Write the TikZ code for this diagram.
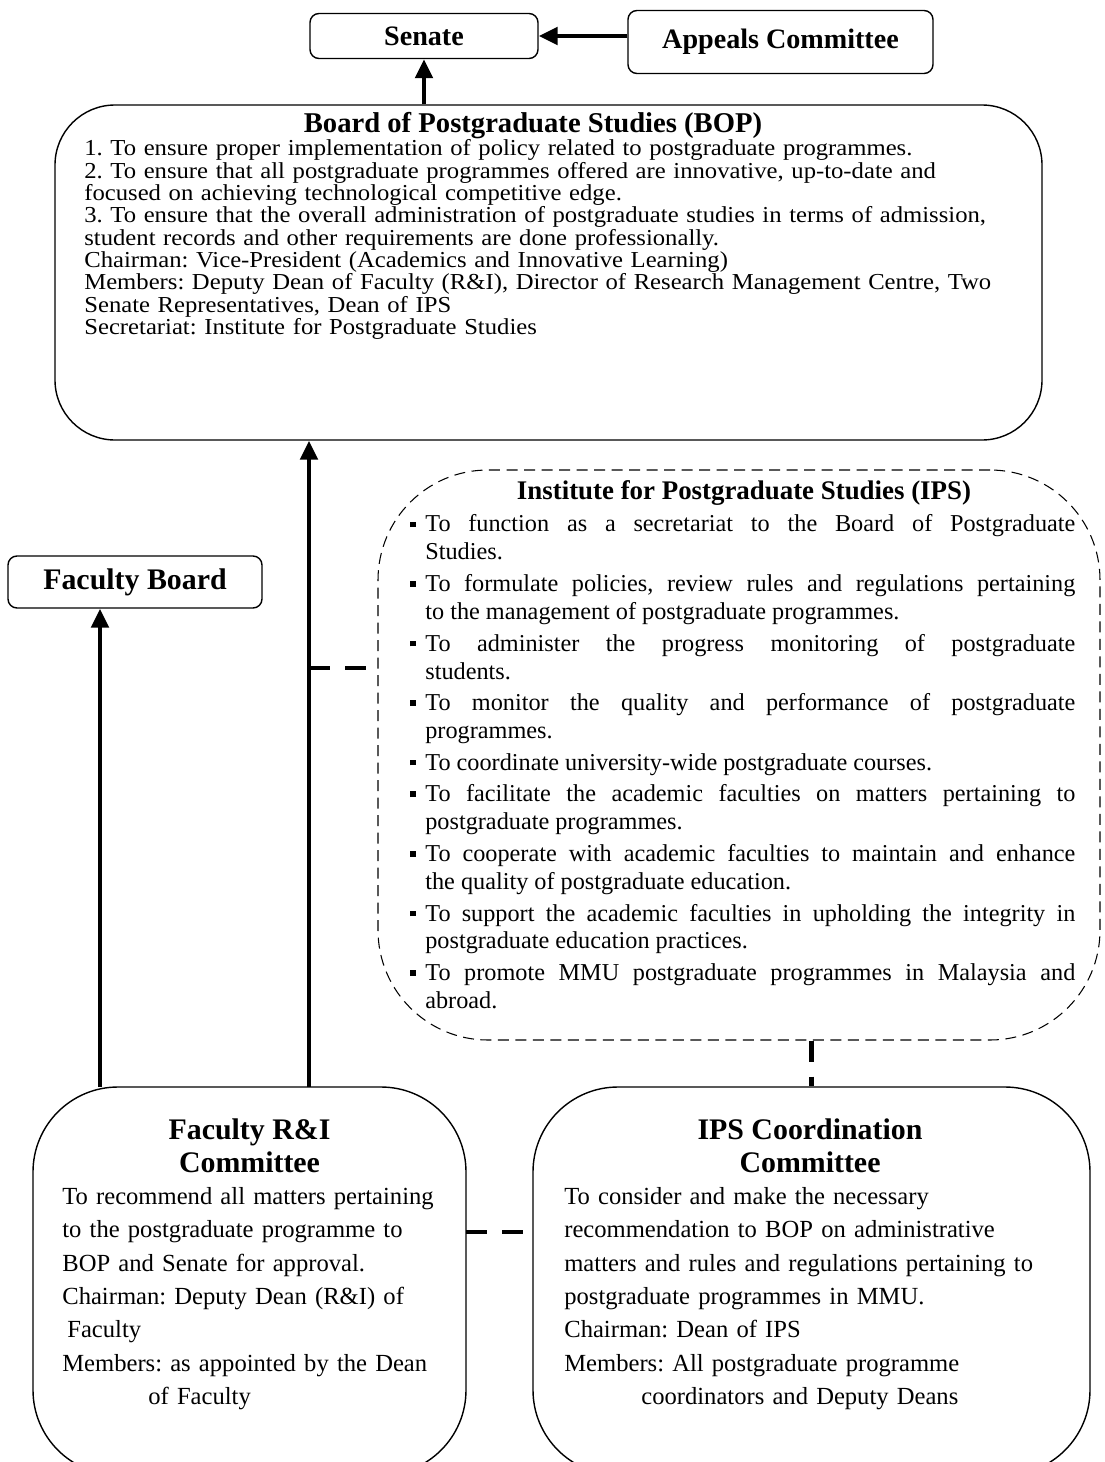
\documentclass[tikz,border=0pt]{standalone}
\usepackage{fontspec}
\setmainfont{Liberation Serif}
\newfontfamily\widefont[FakeStretch=1.08]{Liberation Serif}
\usetikzlibrary{arrows.meta,positioning}
\frenchspacing

\newcommand{\ipsitem}[1]{\par\hangindent=0.3cm\hangafter=1\noindent\makebox[0.3cm][l]{\rule[0.2em]{3.2pt}{3.2pt}}#1}
\newcommand{\tightlines}{\setlength{\lineskiplimit}{-20pt}\setlength{\lineskip}{0pt}}

\begin{document}
\begin{tikzpicture}[
		>={Triangle[width=0.34cm,length=0.38cm]},
		smallbox/.style={draw, line width=0.8pt, rounded corners=0.18cm, font=\bfseries\fontsize{16}{18}\selectfont},
		bigbox/.style={draw, line width=0.8pt, rounded corners=1.2cm},
		bottombox/.style={draw, line width=0.8pt, rounded corners=1.7cm},
		ipsbox/.style={draw, line width=0.6pt, dash pattern=on 0.22cm off 0.13cm, rounded corners=2.2cm},
		flow/.style={->, line width=2.8pt},
		dashlink/.style={line width=2.8pt, dash pattern=on 0.42cm off 0.3cm},
		heading/.style={font=\bfseries\fontsize{16}{18}\selectfont, inner sep=0pt},
		bigheading/.style={font=\bfseries\fontsize{17}{18.8}\selectfont, align=center, inner sep=0pt},
		boptext/.style={font=\widefont\fontsize{13}{12.7}\selectfont, align=left, inner sep=0pt, anchor=north west},
		ipstext/.style={font=\fontsize{13.8}{15.9}\selectfont, align=justify, inner sep=0pt, anchor=north west},
		comtext/.style={font=\fontsize{14}{19}\selectfont, align=left, inner sep=0pt, anchor=north west}
	]
		\useasboundingbox (0, 0) rectangle (22.08, -29.24);
		\clip (0, 0) rectangle (22.08, -29.24);
		% top row
		\node[smallbox, minimum width=4.56cm, minimum height=0.9cm] (senate) at (8.48, -0.72) {Senate};
		\node[smallbox, minimum width=6.1cm, minimum height=1.26cm] (appeals) at (15.61, -0.84) {Appeals Committee};
		% board of postgraduate studies
		\node[bigbox, minimum width=19.74cm, minimum height=6.7cm] (bop) at (10.97, -5.45) {};
		\node[heading, font=\bfseries\fontsize{16.3}{18}\selectfont] (bophead) at (10.66, -2.52) {Board of Postgraduate Studies (BOP)};
		\node[boptext, text width=19.2cm] (bopbody) at (1.68, -2.79) {\tightlines 1. To ensure proper implementation of policy related to postgraduate programmes.\\
			2. To ensure that all postgraduate programmes offered are innovative, up-to-date and\\
			focused on achieving technological competitive edge.\\
			3. To ensure that the overall administration of postgraduate studies in terms of admission,\\
			student records and other requirements are done professionally.\\
			Chairman: Vice-President (Academics and Innovative Learning)\\
			Members: Deputy Dean of Faculty (R\&I), Director of Research Management Centre, Two\\
			Senate Representatives, Dean of IPS\\
			Secretariat: Institute for Postgraduate Studies};
		% institute for postgraduate studies
		\node[ipsbox, minimum width=14.44cm, minimum height=11.4cm] (ips) at (14.78, -15.1) {};
		\node[heading, font=\bfseries\fontsize{15.3}{18}\selectfont] (ipshead) at (14.88, -9.86) {Institute for Postgraduate Studies (IPS)};
		\node[ipstext, text width=13.3cm] (ipsbody) at (8.2, -10.0) {\setlength{\parskip}{2.1pt}%
			\ipsitem{To function as a secretariat to the Board of Postgraduate\linebreak Studies.}
			\ipsitem{To formulate policies, review rules and regulations pertaining\linebreak to the management of postgraduate programmes.}
			\ipsitem{To administer the progress monitoring of postgraduate\linebreak students.}
			\ipsitem{To monitor the quality and performance of postgraduate\linebreak programmes.}
			\ipsitem{To coordinate university-wide postgraduate courses.}
			\ipsitem{To facilitate the academic faculties on matters pertaining to\linebreak postgraduate programmes.}
			\ipsitem{To cooperate with academic faculties to maintain and enhance\linebreak the quality of postgraduate education.}
			\ipsitem{To support the academic faculties in upholding the integrity in\linebreak postgraduate education practices.}
			\ipsitem{To promote MMU postgraduate programmes in Malaysia and\linebreak abroad.}\par};
		% faculty side
		\node[smallbox, font=\bfseries\fontsize{17}{19}\selectfont, minimum width=5.08cm, minimum height=1.04cm] (fboard) at (2.7, -11.64) {Faculty Board};
		\node[bottombox, minimum width=8.66cm, minimum height=7.76cm] (rni) at (4.99, -25.62) {};
		\node[bigheading] (rnihead) at (4.99, -22.92) {Faculty R\&I\\Committee};
		\node[comtext, text width=8.4cm] (rnibody) at (1.24, -23.74) {To recommend all matters pertaining\\
			to the postgraduate programme to\\
			BOP and Senate for approval.\\
			Chairman: Deputy Dean (R\&I) of\\
			\hspace*{0.1cm}Faculty\\
			Members: as appointed by the Dean\\
			\hspace*{1.72cm}of Faculty};
		% ips coordination
		\node[bottombox, minimum width=11.14cm, minimum height=7.76cm] (ipsc) at (16.23, -25.62) {};
		\node[bigheading] (ipschead) at (16.2, -22.92) {IPS Coordination\\Committee};
		\node[comtext, text width=10.4cm] (ipscbody) at (11.28, -23.74) {To consider and make the necessary\\
			recommendation to BOP on administrative\\
			matters and rules and regulations pertaining to\\
			postgraduate programmes in MMU.\\
			Chairman: Dean of IPS\\
			Members: All postgraduate programme\\
			\hspace*{1.54cm}coordinators and Deputy Deans};
		% connectors
		\coordinate (rnitop) at (6.18, -21.74);
		\coordinate (fbtop) at (2.0, -21.74);
		\coordinate (ipslink) at (6.18, -13.36);
		\coordinate (sidelink) at (9.32, -24.64);
		\draw[flow] (senate.south |- bop.north) -- (senate.south);
		\draw[flow] (appeals.west |- senate.east) -- (senate.east);
		\draw[flow] (rnitop) -- (rnitop |- bop.south);
		\draw[flow] (fbtop) -- (fbtop |- fboard.south);
		\draw[dashlink] (ipslink) -- (ipslink -| ips.west);
		\draw[dashlink] (ips.south -| ipsc.north) -- (ipsc.north);
		\draw[dashlink] (sidelink) -- (sidelink -| ipsc.west);
	\end{tikzpicture}
\end{document}
